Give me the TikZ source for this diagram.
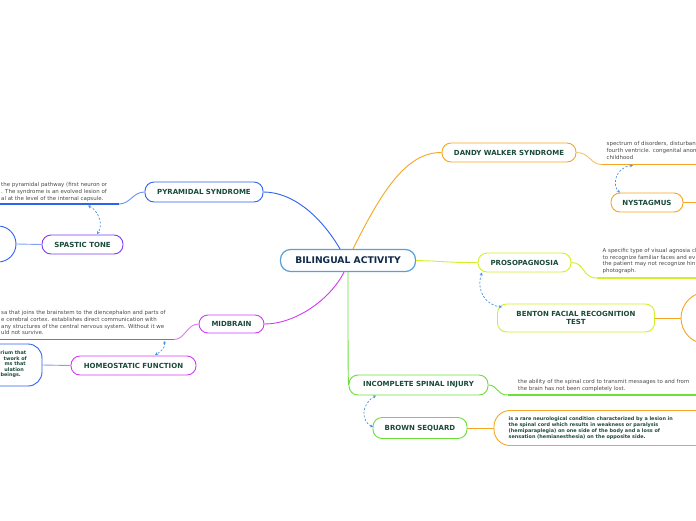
\documentclass[tikz,border=0pt]{standalone}
\usepackage{fontspec}
\setmainfont{DejaVu Sans}
\usetikzlibrary{arrows.meta}
\definecolor{cblue}{HTML}{2E62F0}
\definecolor{cpurple}{HTML}{7D3CF0}
\definecolor{cmag}{HTML}{D03CF2}
\definecolor{corange}{HTML}{F5A623}
\definecolor{cyg}{HTML}{D4EE2A}
\definecolor{cgreen}{HTML}{6BE03A}
\definecolor{croot}{HTML}{5B9FD8}
\definecolor{crel}{HTML}{4A90E2}
\definecolor{ntext}{HTML}{1B4A3A}
\definecolor{rtext}{HTML}{0F2A4A}
\definecolor{dtext}{HTML}{4A4A4A}
\begin{document}
\begin{tikzpicture}[x=1pt,y=-1pt,
 mm/.style={draw, rounded corners=9pt, line width=0.9pt, fill=white, inner sep=0pt, text=ntext, font=\bfseries\fontsize{7}{8}\selectfont},
 desc/.style={anchor=north west, inner sep=0pt, align=left, text=dtext, font=\fontsize{5.45}{6.6}\selectfont},
 descb/.style={inner sep=0pt, text=ntext, font=\bfseries\fontsize{4.9}{6.2}\selectfont},
 conn/.style={line width=0.9pt},
 uline/.style={line width=1.5pt},
 rel/.style={crel, dash pattern=on 2pt off 1.8pt, line width=0.7pt, {Stealth[length=3pt,width=3pt]}-{Stealth[length=3pt,width=3pt]}}]
\useasboundingbox (0,0) rectangle (696,520);
\fill[white] (0,0) rectangle (696,520);
\clip (0,0) rectangle (696,520);

% ---------- nodes ----------
\node[mm, draw=croot, line width=1.2pt, rounded corners=10pt, minimum width=135, minimum height=22, text=rtext, font=\bfseries\fontsize{9.2}{10}\selectfont] (root) at (348,260.5) {BILINGUAL ACTIVITY};
\node[mm, draw=cblue, minimum width=118, minimum height=20] (pyr) at (204,192) {PYRAMIDAL SYNDROME};
\node[mm, draw=cpurple, minimum width=81, minimum height=19] (spa) at (82.5,244.5) {SPASTIC TONE};
\node[mm, draw=cmag, minimum width=65, minimum height=18] (mid) at (231.5,324) {MIDBRAIN};
\node[mm, draw=cmag, minimum width=125, minimum height=19] (hom) at (133.5,365.5) {HOMEOSTATIC FUNCTION};
\node[mm, draw=corange, minimum width=134, minimum height=19] (dan) at (509,152.5) {DANDY WALKER SYNDROME};
\node[mm, draw=corange, minimum width=72, minimum height=19] (nys) at (647,202.5) {NYSTAGMUS};
\node[mm, draw=cyg, minimum width=93, minimum height=19] (pro) at (524.5,262.5) {PROSOPAGNOSIA};
\node[mm, draw=cyg, minimum width=157, minimum height=28, align=center, font=\bfseries\fontsize{7}{7.8}\selectfont] (ben) at (576,318) {BENTON FACIAL RECOGNITION\\TEST};
\node[mm, draw=cgreen, minimum width=139, minimum height=20] (inc) at (418.5,385) {INCOMPLETE SPINAL INJURY};
\node[mm, draw=cgreen, minimum width=94, minimum height=21] (bro) at (420,428) {BROWN SEQUARD};

% cut-off circles and boxes
\node[draw=cblue, line width=0.9pt, circle, minimum size=36, inner sep=0pt] (circL) at (-2,244) {};
\node[draw=corange, line width=0.9pt, circle, minimum size=52, inner sep=0pt] (circR) at (707,318) {};
\node[draw=cblue, line width=0.9pt, rounded corners=14pt, minimum width=76, minimum height=42, inner sep=0pt] (homd) at (4,365) {};
\node[mm, draw=corange, rounded corners=16pt, minimum width=240, minimum height=35] (brod) at (614,428) {};

% ---------- descriptions ----------
\node[desc] (pyrt) at (1,182.6) {the pyramidal pathway (first neuron or\\. The syndrome is an evolved lesion of\\al at the level of the internal capsule.};
\coordinate (pyrU1) at (0,204);
\coordinate (pyrU2) at (119,204);
\node[desc] (midt) at (1,310.6) {sa that joins the brainstem to the diencephalon and parts of\\e cerebral cortex. establishes direct communication with\\any structures of the central nervous system. Without it we\\uld not survive.};
\coordinate (midU1) at (0,339.5);
\coordinate (midU2) at (174,339.5);
\node[desc] (dant) at (606.5,141.6) {spectrum of disorders, disturban\\fourth ventricle. congenital anom\\childhood};
\coordinate (danU1) at (602,164.5);
\coordinate (danU2) at (696,164.5);
\node[desc] (prot) at (602.5,248.1) {A specific type of visual agnosia cl\\to recognize familiar faces and ev\\the patient may not recognize hin\\photograph.};
\coordinate (proU1) at (597,278);
\coordinate (proU2) at (696,278);
\node[desc] (inct) at (518,379.4) {the ability of the spinal cord to transmit messages to and from\\the brain has not been completely lost.};
\coordinate (incU1) at (508,395);
\coordinate (incU2) at (696,395);
\node[descb, anchor=north west, align=left] (brot) at (508.5,416.3) {is a rare neurological condition characterized by a lesion in\\the spinal cord which results in weakness or paralysis\\(hemiparaplegia) on one side of the body and a loss of\\sensation (hemianesthesia) on the opposite side.};
\node[descb, anchor=east] (h1) at (26.5,352.7) {rium that};
\node[descb, anchor=east] (h2) at (27,358.4) {twork of};
\node[descb, anchor=east] (h3) at (26,364.1) {ms that};
\node[descb, anchor=east] (h4) at (24,369.8) {ulation};
\node[descb, anchor=east] (h5) at (21,375.5) {beings.};

% ---------- connectors ----------
\draw[conn, cblue] (root.north) ++(-8,0) .. controls (320,215) and (292,192) .. (pyr.east);
\draw[conn, corange] (root.north) ++(5,0) .. controls (380,195) and (405,152) .. (dan.west);
\draw[conn, cmag] (root.south) ++(-4,0) .. controls (330,300) and (295,324) .. (mid.east);
\draw[conn, cgreen] (root.south) .. controls (348,330) and (348,380) .. (inc.west);
\draw[conn, cyg] (root.east) .. controls (440,261) and (455,263) .. (pro.west);

\draw[conn, cblue!70] (pyr.west) .. controls (133,192) and (130,204) .. (pyrU2);
\draw[uline, cblue] (pyrU1) -- (pyrU2);
\draw[conn, cmag!70] (mid.west) .. controls (187,324) and (185,339.5) .. (midU2);
\draw[uline, cmag] (midU1) -- (midU2);
\draw[conn, corange!70] (dan.east) .. controls (590,152.5) and (590,164.5) .. (danU1);
\draw[uline, corange] (danU1) -- (danU2);
\draw[conn, cyg] (pro.east) .. controls (585,262.5) and (582,278) .. (proU1);
\draw[uline, cyg] (proU1) -- (proU2);
\draw[conn, cgreen] (inc.east) .. controls (498,385) and (496,395) .. (incU1);
\draw[uline, cgreen] (incU1) -- (incU2);

\draw[conn, cblue!60] (circL.east) -- (spa.west);
\draw[conn, cblue!60] (homd.east) -- (hom.west);
\draw[conn, corange] (nys.east) -- (696,202.5);
\draw[conn, corange] (ben.east) -- (circR.west);
\draw[conn, corange] (bro.east) -- (brod.west);

% ---------- relationships ----------
\coordinate (r1a) at (88,205.5);
\coordinate (r1b) at (97,234);
\draw[rel] (r1a) .. controls (100,212) and (103,226) .. (r1b);
\coordinate (r2a) at (164,341);
\coordinate (r2b) at (155,355);
\draw[rel] (r2a) .. controls (166,348) and (160,352) .. (r2b);
\coordinate (r3a) at (633,165.5);
\coordinate (r3b) at (620,192.5);
\draw[rel] (r3a) .. controls (615,167) and (612,186) .. (r3b);
\coordinate (r4a) at (482,272.5);
\coordinate (r4b) at (502,307);
\draw[rel] (r4a) .. controls (476,290) and (485,305) .. (r4b);
\coordinate (r5a) at (376,395.5);
\coordinate (r5b) at (373,427);
\draw[rel] (r5a) .. controls (360,405) and (362,422) .. (r5b);
\end{tikzpicture}
\end{document}
